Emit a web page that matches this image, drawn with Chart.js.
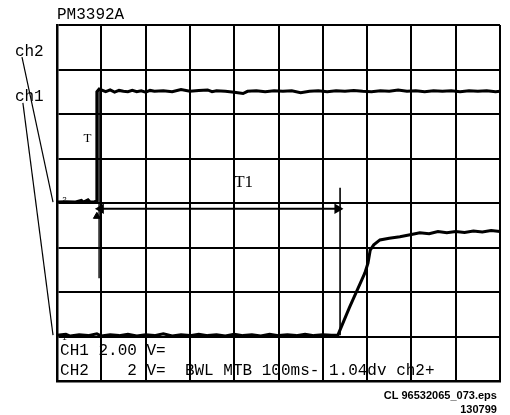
<!DOCTYPE html>
<html>
<head>
<meta charset="utf-8">
<script src="https://cdn.jsdelivr.net/npm/chart.js@4.4.1/dist/chart.umd.min.js"></script>
<style>
  html, body { margin: 0; padding: 0; background: #fff; }
  #wrap { width: 510px; height: 415px; }
</style>
</head>
<body>
<div id="wrap"><canvas id="scope" width="510" height="415"></canvas></div>
<script>
// screen is 10 x 8 divisions, values below are in divisions
const xDivs = [0, 10];
const yDivs = [0, 8];

// ch2 trace (step at trigger)
const ch2Points = [
  [0, 4.02], [0.2, 4.03], [0.4, 4.02], [0.55, 4.06], [0.6, 4.02], [0.7, 4.07],
  [0.75, 4.02], [0.85, 4.03], [0.9, 4.05], [0.9, 6.5], [0.95, 6.56], [1.1, 6.5],
  [1.2, 6.54], [1.3, 6.49], [1.4, 6.53], [1.5, 6.51], [1.6, 6.5], [1.7, 6.53],
  [1.8, 6.5], [1.9, 6.52], [2.0, 6.49], [2.1, 6.53], [2.2, 6.51], [2.4, 6.52],
  [2.6, 6.5], [2.8, 6.55], [3.0, 6.51], [3.2, 6.53], [3.4, 6.54], [3.5, 6.5],
  [3.6, 6.52], [3.8, 6.51], [4.0, 6.49], [4.2, 6.46], [4.3, 6.51], [4.5, 6.52],
  [4.7, 6.5], [4.9, 6.52], [5.1, 6.51], [5.3, 6.52], [5.5, 6.48], [5.7, 6.51],
  [5.9, 6.52], [6.1, 6.5], [6.3, 6.52], [6.5, 6.51], [6.7, 6.53], [6.9, 6.51],
  [7.1, 6.5], [7.3, 6.52], [7.5, 6.51], [7.7, 6.54], [7.9, 6.51], [8.1, 6.52],
  [8.3, 6.5], [8.5, 6.52], [8.7, 6.51], [8.9, 6.52], [9.1, 6.5], [9.3, 6.52],
  [9.5, 6.51], [9.7, 6.52], [9.9, 6.5], [10, 6.51]
];

// ch1 trace (delayed slow rise)
const ch1Points = [
  [0, 1.03], [0.2, 1.05], [0.3, 1.01], [0.5, 1.04], [0.7, 1.02], [0.9, 1.06],
  [1.0, 1.01], [1.2, 1.04], [1.4, 1.02], [1.6, 1.05], [1.8, 1.01], [2.0, 1.04],
  [2.2, 1.02], [2.4, 1.06], [2.6, 1.01], [2.8, 1.04], [3.0, 1.02], [3.2, 1.05],
  [3.4, 1.02], [3.6, 1.04], [3.8, 1.01], [4.0, 1.05], [4.2, 1.02], [4.4, 1.04],
  [4.6, 1.01], [4.8, 1.05], [5.0, 1.02], [5.2, 1.04], [5.4, 1.02], [5.6, 1.05],
  [5.8, 1.02], [6.0, 1.04], [6.2, 1.03], [6.34, 1.03], [6.6, 1.65], [6.88, 2.27],
  [6.95, 2.43], [7.02, 2.65], [7.07, 2.94], [7.15, 3.06], [7.29, 3.17], [7.5, 3.21],
  [7.74, 3.24], [8.0, 3.29], [8.19, 3.33], [8.4, 3.31], [8.6, 3.36], [8.8, 3.33],
  [9.0, 3.36], [9.2, 3.34], [9.4, 3.37], [9.6, 3.35], [9.8, 3.38], [10, 3.36]
];

// cursors and the T1 time arrow
const triggerCursor = [[0.95, 6.52], [0.95, 2.31]];
const t1Cursor = [[6.39, 4.34], [6.39, 1.03]];
const t1Arrow = [[0.99, 3.87], [6.33, 3.87]];
const trigMarker = [[0.9, 3.7]];

// leader lines from the channel names to their ground markers
const ch2Leader = [[-0.79, 7.28], [-0.09, 4.02]];
const ch1Leader = [[-0.77, 6.25], [-0.09, 1.03]];

const pts = (arr) => arr.map(([x, y]) => ({ x, y }));

const lineSet = (data, width) => ({
  data: pts(data),
  showLine: true,
  borderColor: "#000",
  borderWidth: width,
  pointRadius: 0,
  tension: 0,
  clip: false
});

const scopeText = {
  id: "scopeText",
  afterDatasetsDraw(chart) {
    const { ctx, scales: { x, y } } = chart;
    const put = (txt, dx, dy, font, align = "left") => {
      ctx.font = font;
      ctx.textAlign = align;
      ctx.textBaseline = "middle";
      ctx.fillStyle = "#000";
      ctx.fillText(txt, x.getPixelForValue(dx), y.getPixelForValue(dy));
    };
    const mono = "16px 'Liberation Mono', monospace";
    ctx.save();
    put("PM3392A", 0, 8.22, mono);
    put("ch2", -0.95, 7.4, mono);
    put("ch1", -0.95, 6.39, mono);
    put("T", 0.6, 5.45, "13px 'Liberation Serif', serif");
    put("T1", 4.0, 4.47, "17px 'Liberation Serif', serif");
    put("2", 0.12, 4.08, "8px 'Liberation Sans', sans-serif");
    put("1", 0.12, 0.98, "8px 'Liberation Sans', sans-serif");
    put("CH1 2.00 V=", 0.07, 0.67, mono);
    put("CH2    2 V=  BWL MTB 100ms- 1.04dv ch2+", 0.07, 0.24, mono);
    put("CL 96532065_073.eps", 9.93, -0.34, "bold 11px 'Liberation Sans', sans-serif", "right");
    put("130799", 9.93, -0.65, "bold 11px 'Liberation Sans', sans-serif", "right");
    ctx.restore();
  }
};

new Chart(document.getElementById("scope"), {
  type: "scatter",
  data: {
    datasets: [
      lineSet(ch2Points, 3),
      lineSet(ch1Points, 3),
      lineSet(triggerCursor, 1.4),
      lineSet(t1Cursor, 1.6),
      {
        ...lineSet(t1Arrow, 2),
        pointRadius: 4,
        pointStyle: "triangle",
        pointRotation: [-90, 90],
        pointBackgroundColor: "#000",
        pointBorderColor: "#000"
      },
      {
        ...lineSet(trigMarker, 1),
        showLine: false,
        pointRadius: 4,
        pointStyle: "triangle",
        pointBackgroundColor: "#000",
        pointBorderColor: "#000"
      },
      lineSet(ch2Leader, 1.2),
      lineSet(ch1Leader, 1.2)
    ]
  },
  options: {
    responsive: false,
    animation: false,
    layout: { padding: { left: 57, top: 25, right: 10, bottom: 34 } },
    plugins: {
      legend: { display: false },
      tooltip: { enabled: false }
    },
    scales: {
      x: {
        type: "linear",
        min: xDivs[0],
        max: xDivs[1],
        ticks: { display: false, stepSize: 1 },
        grid: { color: "#000", lineWidth: 2, drawTicks: false },
        border: { display: true, color: "#000", width: 2.5 }
      },
      y: {
        type: "linear",
        min: yDivs[0],
        max: yDivs[1],
        ticks: { display: false, stepSize: 1 },
        grid: { color: "#000", lineWidth: 2, drawTicks: false },
        border: { display: true, color: "#000", width: 2.5 }
      }
    }
  },
  plugins: [scopeText]
});
</script>
</body>
</html>
